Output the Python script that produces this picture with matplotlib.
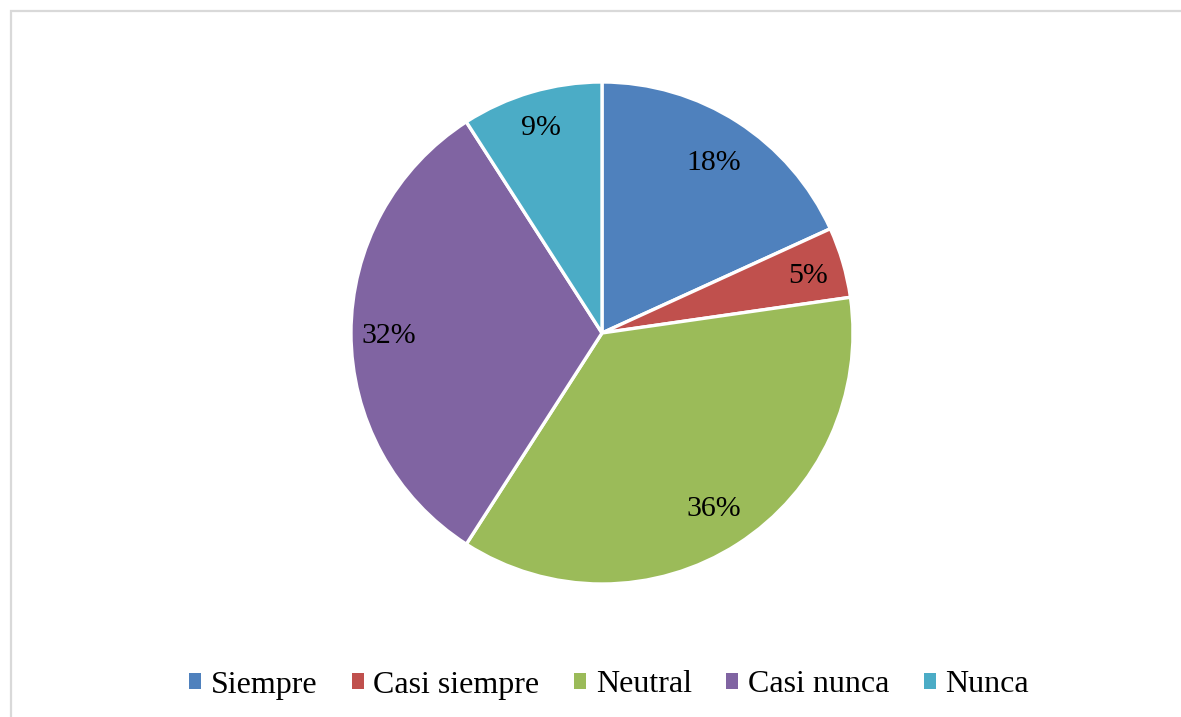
import matplotlib
matplotlib.use("Agg")
import numpy as np
import matplotlib.pyplot as plt
from matplotlib.patches import Patch, Rectangle

categories = ["Siempre", "Casi siempre", "Neutral", "Casi nunca", "Nunca"]
counts = [4, 1, 8, 7, 2]
colors = ["#4F81BD", "#C0504D", "#9BBB59", "#8064A2", "#4BACC6"]
label_dist = [0.82, 0.855, 0.82, 0.85, 0.865]

plt.rcParams["font.family"] = ["Liberation Serif", "DejaVu Serif"]

W, H = 1181, 717
fig = plt.figure(figsize=(W / 100, H / 100), dpi=100)

# light grey chart frame (right and bottom edges fall outside the image)
fig.patches.append(Rectangle((10.5 / W, -0.1), 1.2, 1.1 - 11.5 / H,
                             transform=fig.transFigure, fill=False,
                             edgecolor="#D9D9D9", linewidth=1.6))

cx, cy, r = 602, 333, 251
ax = fig.add_axes([(cx - r) / W, (H - cy - r) / H, 2 * r / W, 2 * r / H])
wedges, texts, autotexts = ax.pie(
    counts, colors=colors, startangle=90, counterclock=False,
    autopct=lambda p: "%d%%" % int(p + 0.5), pctdistance=0.84,
    wedgeprops=dict(edgecolor="white", linewidth=2.4),
    textprops=dict(fontsize=21.5, color="black"))
for w, t, d in zip(wedges, autotexts, label_dist):
    a = np.deg2rad((w.theta1 + w.theta2) / 2)
    t.set_position((d * np.cos(a), d * np.sin(a)))
    t.set_va("center_baseline")
ax.set_xlim(-1, 1)
ax.set_ylim(-1, 1)
ax.axis("off")

handles = [Patch(facecolor=c, edgecolor="none") for c in colors]
fig.legend(handles, categories, loc="center", ncol=5, frameon=False,
           bbox_to_anchor=(609 / W, 1 - 685 / H), fontsize=23,
           handlelength=0.38, handleheight=0.38, handletextpad=0.3,
           columnspacing=1.08)

fig.savefig("out.png", dpi=100)
